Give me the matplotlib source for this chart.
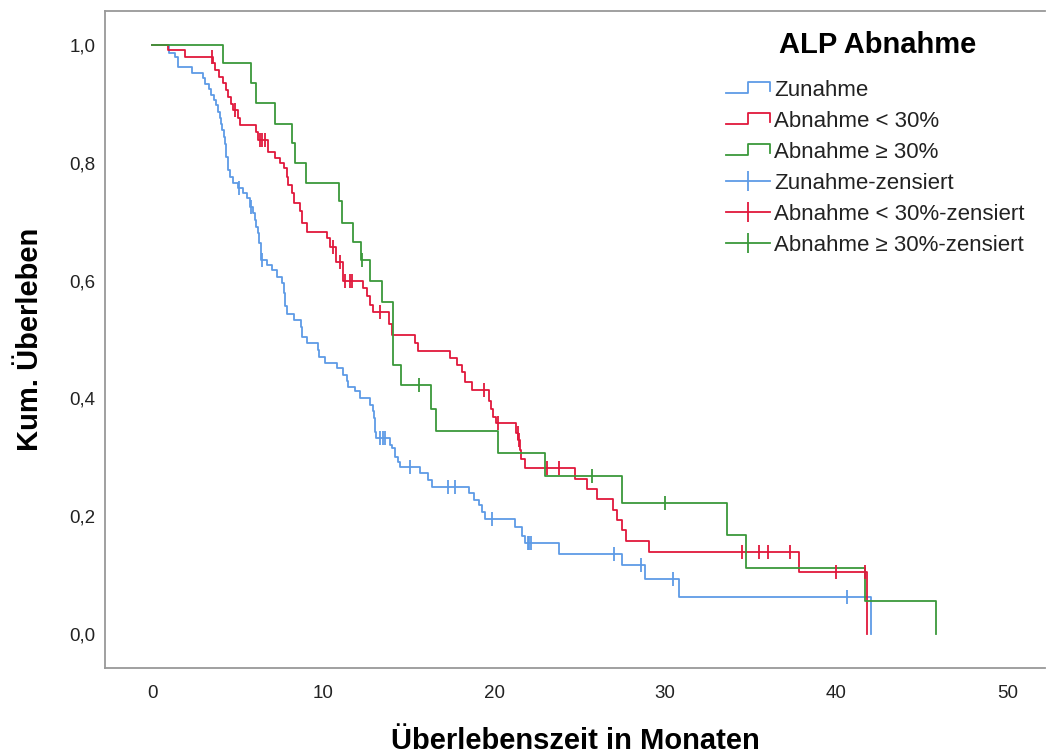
import matplotlib
matplotlib.use('Agg')
import matplotlib.pyplot as plt
import numpy as np
from matplotlib.lines import Line2D
from matplotlib.legend_handler import HandlerBase

plt.rcParams['font.family'] = ['Liberation Sans', 'DejaVu Sans']

# Zunahme (blue): event times and survival after each step
zu_t = [1.0, 1.35, 1.54, 2.32, 2.96, 3.1, 3.33, 3.45, 3.6, 3.75,
        3.85, 3.95, 4.02, 4.1, 4.2, 4.25, 4.3, 4.35, 4.42, 4.46,
        4.56, 4.76, 5.0, 5.34, 5.55, 5.73, 5.75, 5.92, 6.0, 6.1,
        6.2, 6.28, 6.38, 6.7, 7.0, 7.29, 7.58, 7.7, 7.75, 7.8,
        7.87, 8.3, 8.7, 8.78, 9.05, 9.7, 9.78, 10.1, 10.8, 11.19,
        11.4, 11.48, 11.87, 12.16, 12.75, 12.94, 13.0, 13.02, 13.04, 13.1,
        13.9, 14.0, 14.2, 14.4, 14.5, 15.65, 16.15, 16.35, 18.5, 18.8,
        19.1, 19.3, 19.45, 21.2, 21.65, 21.8, 23.8, 27.5, 28.8, 30.8, 42.0]
zu_s = [0.985, 0.979, 0.962, 0.952, 0.943, 0.933, 0.924, 0.915, 0.906, 0.897,
        0.886, 0.876, 0.865, 0.855, 0.843, 0.832, 0.82, 0.81, 0.798, 0.787,
        0.776, 0.766, 0.757, 0.748, 0.74, 0.731, 0.725, 0.714, 0.702, 0.691,
        0.68, 0.663, 0.635, 0.626, 0.617, 0.606, 0.595, 0.578, 0.567, 0.556,
        0.544, 0.533, 0.522, 0.505, 0.494, 0.483, 0.471, 0.46, 0.451, 0.44,
        0.43, 0.42, 0.412, 0.40, 0.389, 0.378, 0.367, 0.355, 0.344, 0.333,
        0.322, 0.316, 0.301, 0.293, 0.284, 0.273, 0.262, 0.25, 0.239, 0.228,
        0.22, 0.208, 0.196, 0.183, 0.167, 0.155, 0.136, 0.117, 0.094, 0.063, 0.0]
zu_cens = [5.1, 5.8, 6.45, 13.35, 13.5, 13.6, 15.1, 17.3, 17.7, 19.9,
           21.95, 22.05, 22.15, 27.0, 28.6, 30.45, 40.6]

# Abnahme < 30% (red)
ab_t = [0.95, 1.9, 3.55, 3.7, 3.94, 4.13, 4.3, 4.45, 4.6, 4.75,
        5.0, 5.15, 6.1, 6.2, 6.8, 7.19, 7.49, 7.72, 7.87, 7.97,
        8.17, 8.3, 8.65, 8.75, 9.05, 10.2, 10.4, 10.75, 11.19, 12.36,
        12.55, 12.75, 12.94, 13.88, 14.02, 15.38, 15.57, 17.43, 17.82, 18.11,
        18.3, 18.7, 19.67, 19.8, 19.96, 20.1, 21.3, 21.42, 21.5, 21.55,
        21.8, 24.7, 25.45, 26.0, 26.95, 27.2, 27.5, 27.7, 29.06, 37.8, 41.8]
ab_s = [0.99, 0.978, 0.968, 0.957, 0.945, 0.934, 0.923, 0.911, 0.90, 0.889,
        0.875, 0.864, 0.852, 0.838, 0.818, 0.807, 0.80, 0.79, 0.776, 0.762,
        0.748, 0.731, 0.717, 0.697, 0.683, 0.672, 0.657, 0.632, 0.60, 0.587,
        0.573, 0.558, 0.547, 0.527, 0.508, 0.494, 0.48, 0.468, 0.457, 0.445,
        0.428, 0.414, 0.395, 0.382, 0.369, 0.358, 0.341, 0.33, 0.313, 0.297,
        0.282, 0.263, 0.247, 0.229, 0.211, 0.194, 0.177, 0.159, 0.140, 0.106, 0.0]
ab_cens = [3.5, 4.85, 6.3, 6.45, 6.6, 10.57, 11.0, 11.3, 11.6, 11.7,
           13.33, 19.4, 20.2, 21.4, 21.47, 23.1, 23.8, 34.5, 35.5, 36.0,
           37.3, 40.0, 41.7]

# Abnahme >= 30% (green)
gr_t = [4.17, 5.8, 6.1, 7.2, 8.17, 8.36, 8.98, 10.94, 11.09, 11.77,
        12.22, 12.75, 13.47, 14.07, 14.54, 16.3, 16.6, 20.2, 23.0, 27.5,
        33.6, 34.7, 41.7, 45.8]
gr_s = [0.968, 0.935, 0.901, 0.866, 0.833, 0.80, 0.766, 0.734, 0.698, 0.666,
        0.635, 0.60, 0.564, 0.457, 0.423, 0.383, 0.345, 0.307, 0.269, 0.223,
        0.168, 0.112, 0.056, 0.0]
gr_cens = [12.25, 15.6, 25.7, 30.0]

groups = ['Zunahme', 'Abnahme < 30%', 'Abnahme \u2265 30%']
colors = ['#5e9be6', '#e0183c', '#3a993a']

xticks = [0, 10, 20, 30, 40, 50]
yticks = [0.0, 0.2, 0.4, 0.6, 0.8, 1.0]
ytick_labels = ['0,0', '0,2', '0,4', '0,6', '0,8', '1,0']


class StepHandler(HandlerBase):
    def create_artists(self, legend, orig_handle, xdescent, ydescent,
                       width, height, fontsize, trans):
        x0 = -xdescent
        y0 = -ydescent
        xs = [x0, x0 + 0.5 * width, x0 + 0.5 * width, x0 + width, x0 + width]
        ys = [y0 + 0.15 * height, y0 + 0.15 * height, y0 + 0.85 * height,
              y0 + 0.85 * height, y0 + 0.3 * height]
        line = Line2D(xs, ys, color=orig_handle.get_color(),
                      lw=orig_handle.get_linewidth())
        line.set_transform(trans)
        return [line]


fig = plt.figure(figsize=(10.46, 7.54), dpi=100)
ax = fig.add_axes([105 / 1046, 86 / 754, 940 / 1046, 657 / 754])

series = [(zu_t, zu_s, zu_cens), (ab_t, ab_s, ab_cens), (gr_t, gr_s, gr_cens)]
step_handles = []
cens_handles = []
for (t, s, c), col, name in zip(series, colors, groups):
    tt = np.r_[0.0, t]
    ss = np.r_[1.0, s]
    ax.step(tt, ss, where='post', color=col, lw=1.3, zorder=3)
    idx = np.searchsorted(tt, c, side='right') - 1
    ax.plot(c, ss[idx], linestyle='none', marker='|', markersize=10,
            markeredgewidth=1.3, color=col, zorder=4)
    step_handles.append(Line2D([0], [0], color=col, lw=1.3, label=name))
    cens_handles.append(Line2D([0], [0], color=col, lw=1.3, marker='|',
                               markersize=14, markeredgewidth=1.3,
                               label=name + '-zensiert'))

ax.set_xlim(-2.75, 52.2)
ax.set_ylim(-0.0568, 1.0568)
ax.set_xticks(xticks)
ax.set_yticks(yticks)
ax.set_yticklabels(ytick_labels)
ax.tick_params(length=0, labelsize=13.5, colors='#222222')
ax.tick_params(axis='y', pad=7)
ax.tick_params(axis='x', pad=12)
for side in ['left', 'bottom', 'top']:
    ax.spines[side].set_color('#999999')
    ax.spines[side].set_linewidth(1.3)
ax.spines['right'].set_visible(False)

ax.set_xlabel('\u00dcberlebenszeit in Monaten', fontsize=21, fontweight='bold',
              labelpad=18)
ax.set_ylabel('Kum. \u00dcberleben', fontsize=21, fontweight='bold', labelpad=18)

hmap = {h: StepHandler() for h in step_handles}
leg = ax.legend(handles=step_handles + cens_handles, handler_map=hmap,
                loc='upper left', bbox_to_anchor=(710 / 1046, 1 - 64 / 754),
                bbox_transform=fig.transFigure, frameon=False, fontsize=16,
                handlelength=2.0, handletextpad=0.2, labelspacing=0.45,
                borderpad=0.2, numpoints=1)
for txt in leg.get_texts():
    txt.set_color('#222222')
fig.text(878 / 1046, 1 - 45 / 754, 'ALP Abnahme', fontsize=21, fontweight='bold',
         ha='center', va='center')

fig.savefig('out.png', dpi=100)
